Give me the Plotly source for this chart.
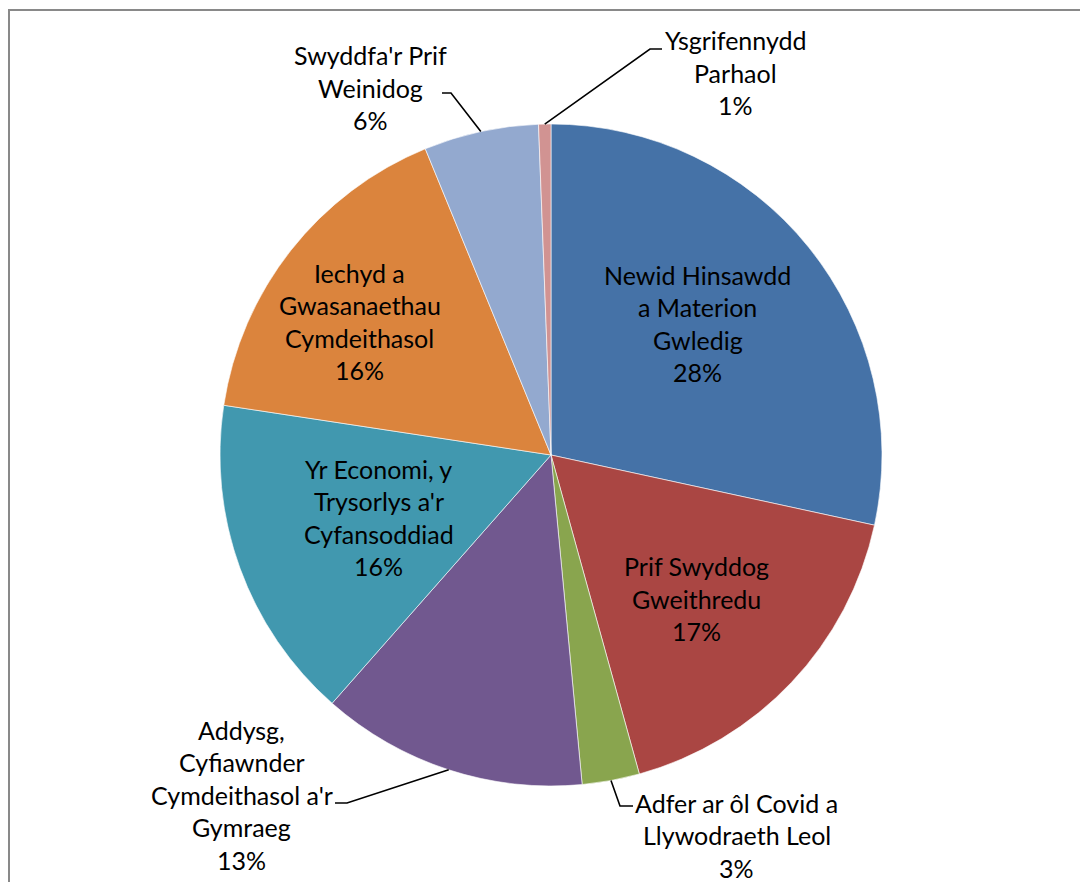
import math
import plotly.graph_objects as go

# ---------------- data ----------------
categories = [
    "Newid Hinsawdd a Materion Gwledig",
    "Prif Swyddog Gweithredu",
    "Adfer ar ôl Covid a Llywodraeth Leol",
    "Addysg, Cyfiawnder Cymdeithasol a'r Gymraeg",
    "Yr Economi, y Trysorlys a'r Cyfansoddiad",
    "Iechyd a Gwasanaethau Cymdeithasol",
    "Swyddfa'r Prif Weinidog",
    "Ysgrifennydd Parhaol",
]
values = [28.4, 17.3, 2.8, 13.0, 15.9, 16.4, 5.6, 0.6]
label_lines = [
    ["Newid Hinsawdd", "a Materion", "Gwledig"],
    ["Prif Swyddog", "Gweithredu"],
    ["Adfer ar ôl Covid a", "Llywodraeth Leol"],
    ["Addysg,", "Cyfiawnder", "Cymdeithasol a'r", "Gymraeg"],
    ["Yr Economi, y", "Trysorlys a'r", "Cyfansoddiad"],
    ["Iechyd a", "Gwasanaethau", "Cymdeithasol"],
    ["Swyddfa'r Prif", "Weinidog"],
    ["Ysgrifennydd", "Parhaol"],
]
colors = ["#4572A7", "#AA4643", "#89A54E", "#71588F",
          "#4198AF", "#DB843D", "#93A9CF", "#D19392"]

# ---------------- layout constants ----------------
W, H = 1080, 882
CX, CY, R = 551, 455, 331          # pie centre / radius in px
FONT = dict(family="Lato, 'Open Sans', sans-serif", size=25, color="#000000")
LINE_H = 32.5
# label placement: (radial factor, angle offset in degrees)
label_place = [(0.595, -3.0), (0.617, 1.3), (1.278, -15.6), (1.388, 24.3),
               (0.554, 0.0), (0.705, -3.3), (1.236, -13.9), (1.281, 26.8)]
# leader lines for outside labels: (start px, elbow px)
leaders = {
    2: ((633, 806), (620, 806)),
    3: ((335, 803), (347, 803)),
    6: ((442, 93), (451, 93)),
    7: ((662, 49), (650, 49)),
}


def px(x, y):
    return x / W, 1 - y / H


total = sum(values)
pcts = [round(v / total * 100) for v in values]
mids = []
cum = 0.0
for v in values:
    mids.append((cum + v / 2) / total * 360.0)
    cum += v

fig = go.Figure(go.Pie(
    labels=categories,
    values=values,
    sort=False,
    direction="clockwise",
    rotation=0,
    textinfo="none",
    hoverinfo="label+percent",
    marker=dict(colors=colors, line=dict(color="#FFFFFF", width=0.6)),
    domain=dict(x=[(CX - R) / W, (CX + R) / W],
                y=[1 - (CY + R) / H, 1 - (CY - R) / H]),
    showlegend=False,
))

annotations = []
shapes = []
for i, lines in enumerate(label_lines):
    f, dth = label_place[i]
    a = math.radians(mids[i] + dth)
    lx = CX + f * R * math.sin(a)
    ly = CY - f * R * math.cos(a)
    all_lines = lines + [f"{pcts[i]}%"]
    n = len(all_lines)
    for j, t in enumerate(all_lines):
        yy = ly + (j - (n - 1) / 2) * LINE_H
        x, y = px(lx, yy)
        annotations.append(dict(x=x, y=y, xref="paper", yref="paper",
                                text=t, showarrow=False, font=FONT,
                                xanchor="center", yanchor="middle"))
    if i in leaders:
        (sx, sy), (ex, ey) = leaders[i]
        am = math.radians(mids[i])
        tx = CX + R * math.sin(am)
        ty = CY - R * math.cos(am)
        p = [px(sx, sy), px(ex, ey), px(tx, ty)]
        path = "M {} {} L {} {} L {} {}".format(p[0][0], p[0][1], p[1][0], p[1][1], p[2][0], p[2][1])
        shapes.append(dict(type="path", path=path, xref="paper", yref="paper",
                           line=dict(color="#000000", width=1.6)))

# chart-area border (runs off right/bottom edge)
bx0, by0 = px(9, 10)
shapes.append(dict(type="rect", xref="paper", yref="paper",
                   x0=bx0, y0=-0.05, x1=1.05, y1=by0,
                   line=dict(color="#898989", width=2), fillcolor="rgba(0,0,0,0)"))

fig.update_layout(
    width=W, height=H,
    margin=dict(l=0, r=0, t=0, b=0),
    paper_bgcolor="#FFFFFF",
    plot_bgcolor="#FFFFFF",
    annotations=annotations,
    shapes=shapes,
)

fig.write_html("out.html",
               config={"displayModeBar": False},
               post_script="document.body.style.margin='0';document.body.style.overflow='hidden';")
